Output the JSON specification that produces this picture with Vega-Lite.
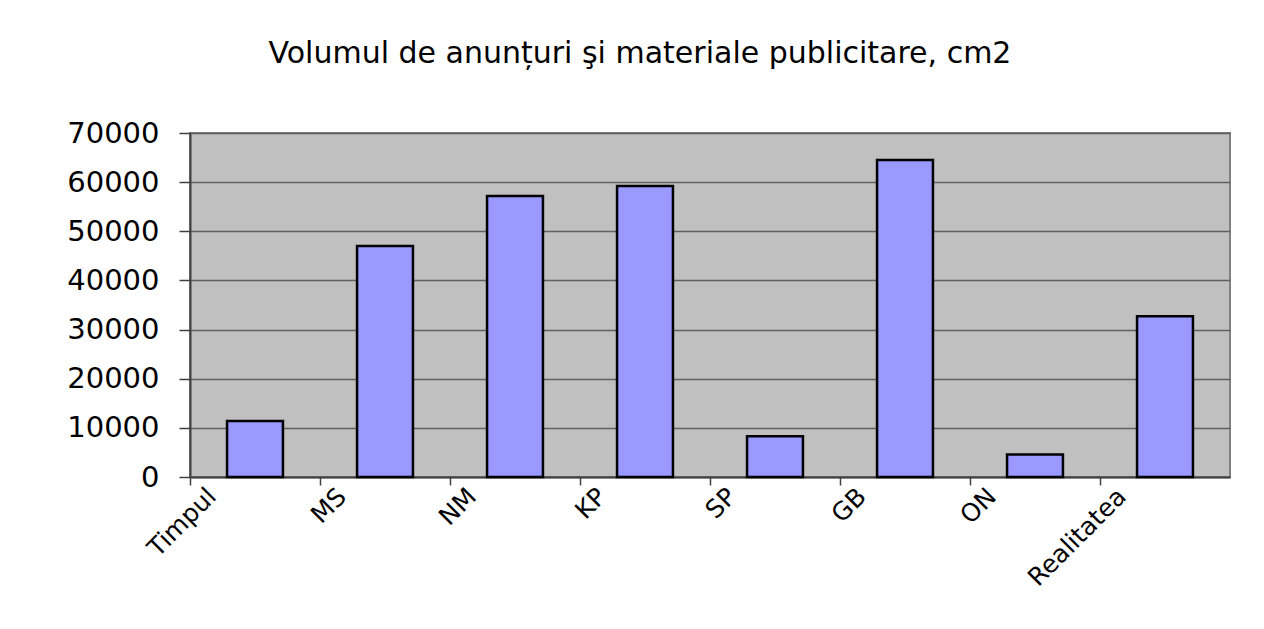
{
  "$schema": "https://vega.github.io/schema/vega-lite/v6.json",
  "width": 1040,
  "height": 344,
  "autosize": {"type": "none"},
  "padding": {"left": 190, "top": 133, "right": 34, "bottom": 152},
  "background": "white",
  "title": {
    "text": "Volumul de anunțuri şi materiale publicitare, cm2",
    "font": "DejaVu Sans",
    "fontSize": 30,
    "fontWeight": "normal",
    "color": "black",
    "anchor": "middle",
    "dx": -70,
    "offset": 50
  },
  "data": {
    "values": [
      {"ziar": "Timpul", "volum": 11400},
      {"ziar": "MS", "volum": 47000},
      {"ziar": "NM", "volum": 57200},
      {"ziar": "KP", "volum": 59200},
      {"ziar": "SP", "volum": 8300},
      {"ziar": "GB", "volum": 64500},
      {"ziar": "ON", "volum": 4600},
      {"ziar": "Realitatea", "volum": 32700}
    ]
  },
  "mark": {"type": "bar", "fill": "#9999FF", "stroke": "black", "strokeWidth": 2.5, "width": {"band": 0.43}},
  "encoding": {
    "x": {
      "field": "ziar",
      "type": "nominal",
      "sort": null,
      "scale": {"paddingInner": 0, "paddingOuter": 0},
      "axis": {
        "title": null,
        "labelAngle": -45,
        "labelAlign": "right",
        "labelBaseline": "middle",
        "bandPosition": 0,
        "labelOffset": -43,
        "tickSize": 8,
        "tickWidth": 1.5,
        "tickColor": "#404040",
        "domainColor": "#404040",
        "domainWidth": 2,
        "labelFont": "DejaVu Sans",
        "labelFontSize": 25,
        "labelColor": "black",
        "labelPadding": 7,
        "grid": false
      }
    },
    "y": {
      "field": "volum",
      "type": "quantitative",
      "scale": {"domain": [0, 70000], "nice": false},
      "axis": {
        "title": null,
        "values": [0, 10000, 20000, 30000, 40000, 50000, 60000, 70000],
        "format": "d",
        "tickSize": 11,
        "tickWidth": 1.5,
        "tickColor": "#404040",
        "domainColor": "#404040",
        "domainWidth": 2,
        "labelPadding": 20,
        "labelFont": "DejaVu Sans",
        "labelFontSize": 29,
        "labelColor": "black",
        "grid": true,
        "gridColor": "#606060",
        "gridWidth": 1.5
      }
    }
  },
  "config": {"view": {"fill": "#C0C0C0", "stroke": "#808080", "strokeWidth": 2}}
}
